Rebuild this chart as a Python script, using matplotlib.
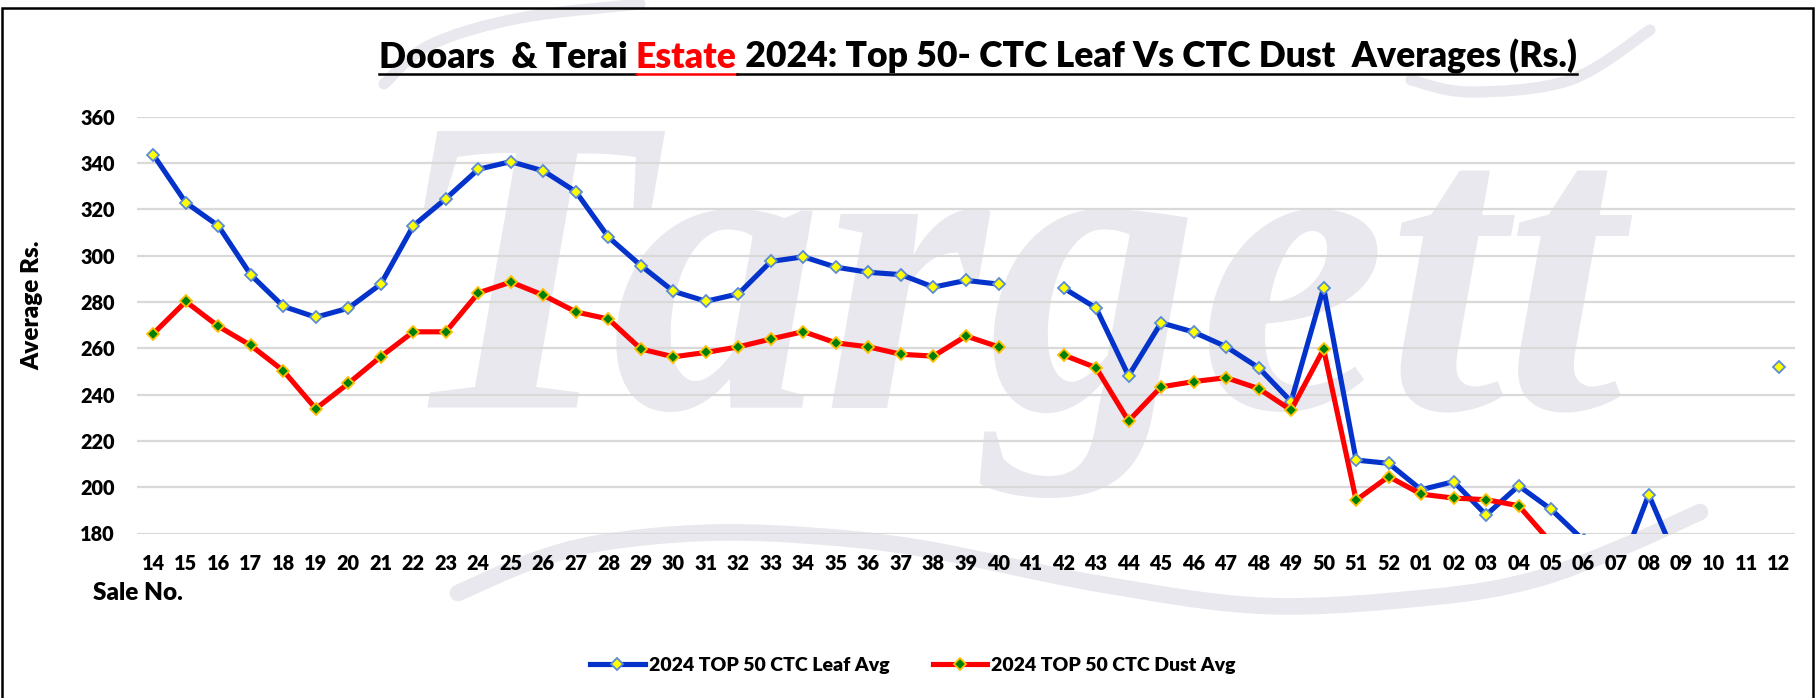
import numpy as np
import matplotlib
matplotlib.use("Agg")
import matplotlib.pyplot as plt
from matplotlib import font_manager
from matplotlib.patches import Rectangle, PathPatch
from matplotlib.path import Path
from matplotlib.lines import Line2D

# ---------------- data ----------------
sale_no = ["14", "15", "16", "17", "18", "19", "20", "21", "22", "23", "24", "25", "26",
           "27", "28", "29", "30", "31", "32", "33", "34", "35", "36", "37", "38", "39",
           "40", "41", "42", "43", "44", "45", "46", "47", "48", "49", "50", "51", "52",
           "01", "02", "03", "04", "05", "06", "07", "08", "09", "10", "11", "12"]

leaf_avg = [343.6, 322.9, 312.9, 291.7, 278.1, 273.4, 277.3, 287.7, 312.9, 324.6, 337.3,
            340.6, 336.6, 327.6, 308.0, 295.7, 284.6, 280.3, 283.5, 297.5, 299.5, 295.0,
            292.8, 291.8, 286.4, 289.3, 287.7, None, 286.0, 277.4, 248.1, 271.0, 267.0,
            260.7, 251.6, 237.0, 286.1, 211.7, 210.3, 198.9, 202.4, 188.0, 200.6, 190.4,
            177.0, 160.0, 196.8, 164.0, None, None, 252.1]

dust_avg = [266.3, 280.2, 269.5, 261.2, 250.3, 233.9, 244.8, 256.4, 267.1, 267.1, 283.9,
            288.6, 282.9, 275.7, 272.6, 259.7, 256.3, 258.2, 260.6, 264.0, 267.2, 262.3,
            260.6, 257.4, 256.6, 265.3, 260.6, None, 257.1, 251.6, 228.6, 243.3, 245.6,
            247.3, 242.6, 233.3, 259.6, 194.4, 204.6, 197.0, 195.3, 194.6, 192.0, 176.0,
            None, None, None, None, None, None, None]

y_ticks = [180, 200, 220, 240, 260, 280, 300, 320, 340, 360]

title_parts = ["Dooars  & Terai ", "Estate", " 2024: Top 50- CTC Leaf Vs CTC Dust  Averages (Rs.)"]
title_colors = ["black", "#FF0000", "black"]
series_names = ["2024 TOP 50 CTC Leaf Avg", "2024 TOP 50 CTC Dust Avg"]

# ---------------- fonts ----------------
avail = {f.name for f in font_manager.fontManager.ttflist}
def pick(*names):
    for n in names:
        if n in avail:
            return n
    return "DejaVu Sans"
FONT = pick("Lato", "Open Sans", "Liberation Sans")
SERIF = pick("Liberation Serif", "DejaVu Serif")
plt.rcParams["font.family"] = [FONT, "DejaVu Sans"]

W, H, DPI = 1818, 698, 100
fig = plt.figure(figsize=(W / DPI, H / DPI), dpi=DPI)
fig.patch.set_facecolor("white")
renderer = fig.canvas.get_renderer()

def px(x, y):
    return x / W, 1 - y / H

# ---------------- watermark (decoration) ----------------
WM_COLOR = "#E8E8EE"
wm = fig.text(0, 0, "Targett", fontsize=100, fontfamily=SERIF, style="italic",
              fontweight="bold", color=WM_COLOR, zorder=0)
bb = wm.get_window_extent(renderer)
wm.set_fontsize(100 * 1230 / bb.width)
wm.set_position(px(392, 408))
wm.set_va("baseline")

def smooth_stroke(pts, lw):
    p = np.array(pts, dtype=float)
    ext = np.vstack([p[0], p, p[-1]])
    verts = [px(*p[0])]
    codes = [Path.MOVETO]
    for i in range(1, len(ext) - 2):
        p0, p1, p2, p3 = ext[i - 1], ext[i], ext[i + 1], ext[i + 2]
        c1 = p1 + (p2 - p0) / 6
        c2 = p2 - (p3 - p1) / 6
        verts += [px(*c1), px(*c2), px(*p2)]
        codes += [Path.CURVE4] * 3
    fig.add_artist(PathPatch(Path(verts, codes), fill=False, ec=WM_COLOR, lw=lw,
                             capstyle="round", joinstyle="round",
                             transform=fig.transFigure, zorder=0))

smooth_stroke([(458, 593), (530, 562), (600, 543), (700, 533), (800, 535), (920, 548),
               (1100, 584), (1267, 606), (1433, 597), (1533, 580), (1620, 548),
               (1700, 512)], 12)
smooth_stroke([(384, 84), (430, 45), (520, 18), (640, 4)], 8)
smooth_stroke([(1411, 80), (1470, 92), (1570, 80), (1650, 30)], 8)

# ---------------- axes ----------------
ax_l, ax_r, ax_t, ax_b = 137, 1795, 116.7, 533.5
ax = fig.add_axes([ax_l / W, 1 - ax_b / H, (ax_r - ax_l) / W, (ax_b - ax_t) / H])
ax.set_facecolor("none")
ax.set_zorder(2)

x = np.arange(len(sale_no))
leaf = np.array(leaf_avg, dtype=float)
dust = np.array(dust_avg, dtype=float)

l1, = ax.plot(x, leaf, color="#0433CC", lw=3.7, marker="D", ms=5.8,
              mfc="#FFFF00", mec="#5B8BD6", mew=1.3, solid_joinstyle="round", zorder=3)
l2, = ax.plot(x, dust, color="#FF0000", lw=3.7, marker="D", ms=5.8,
              mfc="#00800A", mec="#FFC000", mew=1.3, solid_joinstyle="round", zorder=4)

ax.set_xlim(-0.5, len(sale_no) - 0.5)
ax.set_ylim(180, 360)
ax.set_yticks(y_ticks)
ax.set_xticks(x)
ax.set_xticklabels(sale_no)
ax.grid(axis="y", color="#D9D9D9", lw=1.6, zorder=1)
ax.set_axisbelow(True)
for s in ax.spines.values():
    s.set_visible(False)
ax.tick_params(axis="both", length=0, labelsize=14.3)
ax.tick_params(axis="x", pad=15)
ax.tick_params(axis="y", pad=16)
for lab in ax.get_xticklabels() + ax.get_yticklabels():
    lab.set_fontweight("heavy")

fig.text(*px(32, 305), "Average Rs.", rotation=90, fontsize=17.5, fontweight="heavy",
         ha="center", va="center")
fig.text(*px(93, 593), "Sale No.", fontsize=17.5, fontweight="heavy", ha="left", va="center")

# ---------------- legend ----------------
leg = fig.legend([l1, l2], series_names, loc="center", bbox_to_anchor=px(913, 665),
                 ncol=2, frameon=False, handlelength=2.8, columnspacing=2.25,
                 handletextpad=0.2, prop={"weight": "heavy", "size": 14})

# ---------------- title ----------------
base = 20
parts = [fig.text(0, 0, t, fontsize=base, fontweight="heavy", color=c, va="baseline")
         for t, c in zip(title_parts, title_colors)]
widths = [p.get_window_extent(renderer).width for p in parts]
fs = base * 1198 / sum(widths)
for p in parts:
    p.set_fontsize(fs)
widths = [p.get_window_extent(renderer).width for p in parts]
xcur = 379
base_y = 68
for p, wdt, c in zip(parts, widths, title_colors):
    p.set_position(px(xcur, base_y))
    fig.add_artist(Line2D([xcur / W, (xcur + wdt) / W], [1 - (base_y + 6) / H] * 2,
                          color=c, lw=1.8, transform=fig.transFigure))
    xcur += wdt

# ---------------- frame ----------------
fig.add_artist(Rectangle((2 / W, -0.05), (1813 - 2) / W, 1.05 - 8 / H, fill=False,
                         ec="black", lw=1.8, transform=fig.transFigure, zorder=10))

fig.savefig("out.png", dpi=DPI, facecolor="white")
